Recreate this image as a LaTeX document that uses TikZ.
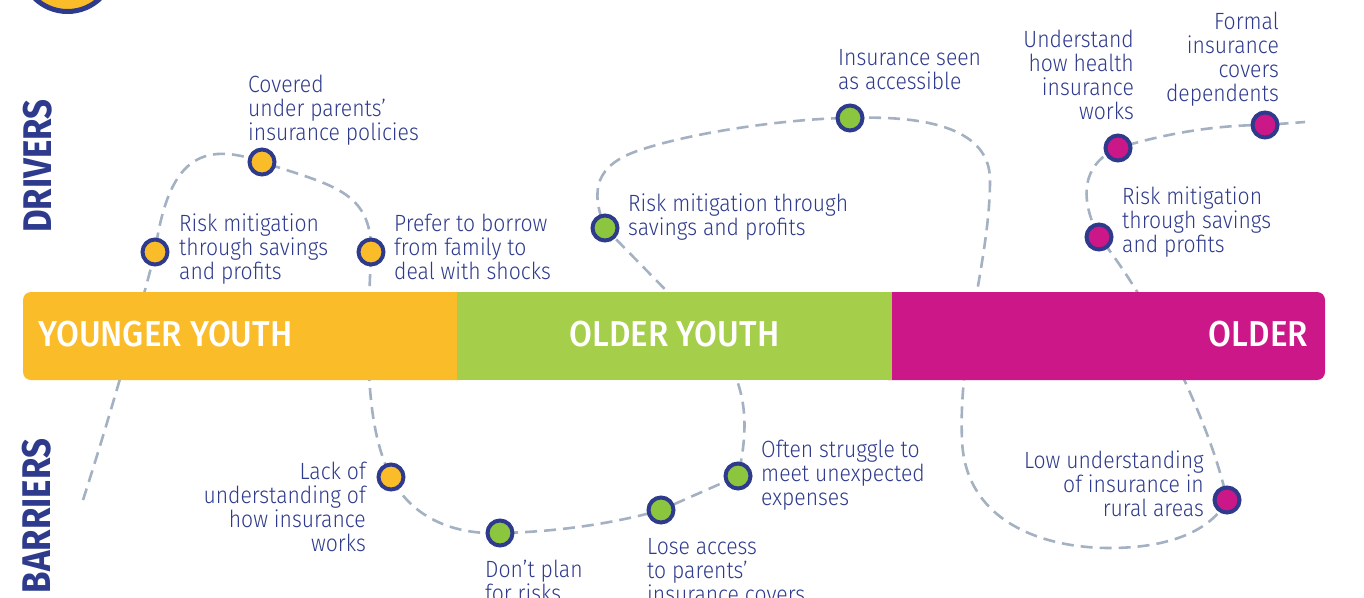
\documentclass[tikz,border=0pt]{standalone}
\usepackage{fontspec}
\setmainfont{Fira Sans}
\newfontfamily\lblfont{Fira Sans Light}[FakeStretch=0.9]
\newfontfamily\barfont{Fira Sans Medium}[FakeStretch=0.92]
\newfontfamily\sidefont{Fira Sans}[FakeStretch=0.87]
\usetikzlibrary{backgrounds}
\definecolor{navy}{HTML}{2E3A8C}
\definecolor{yel}{HTML}{FBBC2A}
\definecolor{grnbar}{HTML}{A5CE4A}
\definecolor{grn}{HTML}{8CC63F}
\definecolor{mag}{HTML}{CC1789}
\definecolor{route}{HTML}{A3B1C2}
\newcommand\lbstrut{\rule{0pt}{18pt}}
\tikzset{
  dot/.style={circle, draw=navy, line width=4pt, fill=#1, minimum size=25pt, inner sep=0pt},
  lbl/.style={font=\lblfont\fontsize{23.5}{24}\selectfont, text=navy, inner sep=0pt},
  lblL/.style={lbl, anchor=north west, align=left},
  lblR/.style={lbl, anchor=north east, align=right},
  barlbl/.style={font=\barfont\fontsize{36}{36}\selectfont, text=white, inner sep=0pt},
  sidelbl/.style={font=\sidefont\bfseries\fontsize{40}{40}\selectfont, text=navy, inner sep=0pt, rotate=90},
  routeline/.style={draw=route, line width=2.6pt, dash pattern=on 12pt off 7pt}
}
\begin{document}
\begin{tikzpicture}[x=1pt,y=-1pt]
\useasboundingbox (0,0) rectangle (1364,597);
% top-left partial badge
\draw[navy, line width=5pt, fill=yel] (67.5,-35.5) circle (47pt);
% bar
\fill[yel, rounded corners=8pt] (23,292) rectangle (470,380);
\fill[mag, rounded corners=8pt] (880,292) rectangle (1325,380);
\fill[grnbar] (457,292) rectangle (892,380);
\node[barlbl, anchor=west] (yy) at (38,334.5) {YOUNGER YOUTH};
\node[barlbl, anchor=center] (oy) at (674.5,334.5) {OLDER YOUTH};
\node[barlbl, anchor=east] (ol) at (1308,334.5) {OLDER};
% side labels
\node[sidelbl] (drv) at (37.5,166) {DRIVERS};
\node[sidelbl] (bar) at (36.5,516) {BARRIERS};
% dots
\node[dot=yel] (y1) at (155,252) {};
\node[dot=yel] (y2) at (262,162) {};
\node[dot=yel] (y3) at (371,252) {};
\node[dot=yel] (b1) at (391,477) {};
\node[dot=grn] (b2) at (500,533) {};
\node[dot=grn] (b3) at (661,510) {};
\node[dot=grn] (b4) at (738,476) {};
\node[dot=grn] (g1) at (605,228) {};
\node[dot=grn] (g2) at (850,118) {};
\node[dot=mag] (m1) at (1118,148) {};
\node[dot=mag] (m2) at (1265,125) {};
\node[dot=mag] (m3) at (1099,237) {};
\node[dot=mag] (m4) at (1227,500) {};
% labels
\node[lblL] (ty1) at (179,213) {\lbstrut Risk mitigation\\through savings\\and profits};
\node[lblL] (ty2) at (248,74) {\lbstrut Covered\\under parents’\\insurance policies};
\node[lblL] (ty3) at (394,213) {\lbstrut Prefer to borrow\\from family to\\deal with shocks};
\node[lblL] (tg1) at (628,193) {\lbstrut Risk mitigation through\\savings and profits};
\node[lblL] (tg2) at (838,47) {\lbstrut Insurance seen\\as accessible};
\node[lblR] (tm1) at (1134,29) {\lbstrut Understand\\how health\\insurance\\works};
\node[lblR] (tm2) at (1279,11) {\lbstrut Formal\\insurance\\covers\\dependents};
\node[lblL] (tm3) at (1122,186) {\lbstrut Risk mitigation\\through savings\\and profits};
\node[lblR] (tb1) at (366,461) {\lbstrut Lack of\\understanding of\\how insurance\\works};
\node[lblL] (tb2) at (485,559) {\lbstrut Don’t plan\\for risks};
\node[lblL] (tb3) at (647,536) {\lbstrut Lose access\\to parents’\\insurance covers};
\node[lblL] (tb4) at (761,439) {\lbstrut Often struggle to\\meet unexpected\\expenses};
\node[lblR] (tm4) at (1204,450) {\lbstrut Low understanding\\of insurance in\\rural areas};
% route
\coordinate (s0) at (83,500);
\coordinate (k1) at (700,325);
\coordinate (k2) at (640,150);
\coordinate (k3) at (990,180);
\coordinate (k4) at (962,440);
\coordinate (k5) at (1110,548);
\coordinate (e0) at (1305,122);
\begin{scope}[on background layer]
\draw[routeline] (s0) .. controls (112,410) and (143,300) .. (y1.center)
 .. controls (168,160) and (200,140) .. (y2.center)
 .. controls (330,185) and (372,190) .. (y3.center)
 .. controls (368,330) and (362,420) .. (b1.center)
 .. controls (410,515) and (450,535) .. (b2.center)
 .. controls (560,532) and (620,522) .. (b3.center)
 -- (b4.center)
 .. controls (752,415) and (745,370) .. (k1) -- (g1.center)
 .. controls (590,190) and (595,165) .. (k2)
 .. controls (700,130) and (800,118) .. (g2.center)
 .. controls (930,115) and (990,130) .. (k3)
 .. controls (990,260) and (958,350) .. (k4)
 .. controls (965,520) and (1040,548) .. (k5)
 .. controls (1170,548) and (1212,530) .. (m4.center)
 .. controls (1210,420) and (1150,300) .. (m3.center)
 .. controls (1080,200) and (1080,165) .. (m1.center)
 .. controls (1170,132) and (1220,125) .. (m2.center)
 -- (e0);
\end{scope}
\end{tikzpicture}
\end{document}
